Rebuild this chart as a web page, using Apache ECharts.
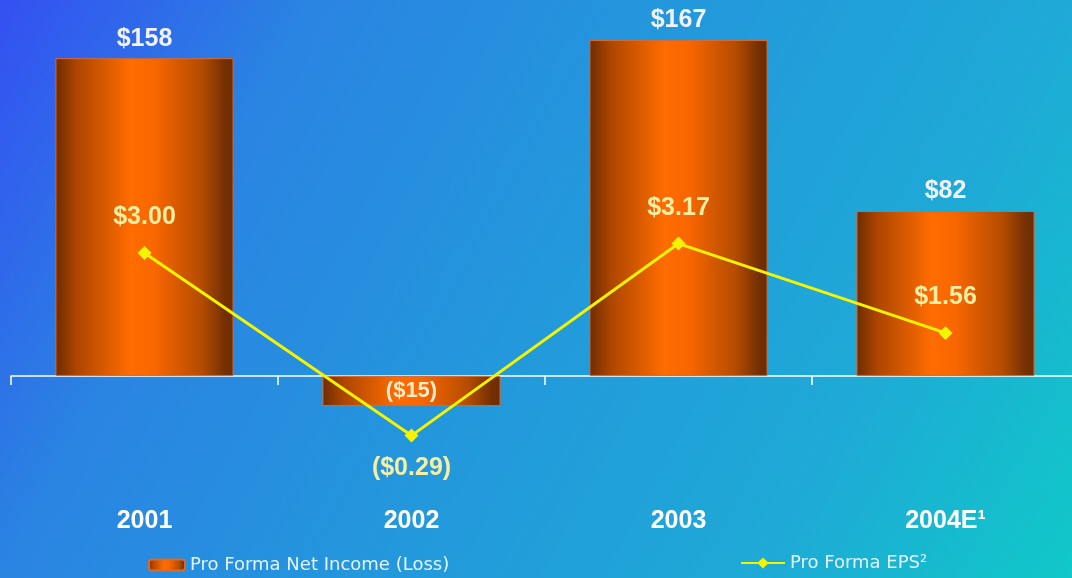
<!DOCTYPE html>
<html><head><meta charset="utf-8">
<script src="https://cdn.jsdelivr.net/npm/echarts@6/dist/echarts.min.js"></script>
<style>html,body{margin:0;padding:0;overflow:hidden;}#c{width:1072px;height:578px;}</style>
</head><body><div id="c"></div>
<script>
const categories = ['2001', '2002', '2003', '2004E\u00B9'];
const netIncome = [158, -15, 167, 82];
const eps = [3.00, -0.29, 3.17, 1.56];
const seriesNames = ['Pro Forma Net Income (Loss)', 'Pro Forma EPS\u00B2'];

const chart = echarts.init(document.getElementById('c'), null, {renderer: 'canvas'});

const barGradient = {
  type: 'linear', x: 0, y: 0, x2: 1, y2: 0,
  colorStops: [
    {offset: 0, color: '#6e2c02'},
    {offset: 0.12, color: '#ad4600'},
    {offset: 0.42, color: '#ff6c00'},
    {offset: 0.56, color: '#f86600'},
    {offset: 0.82, color: '#b44c00'},
    {offset: 0.95, color: '#743004'},
    {offset: 1, color: '#6e2c02'}
  ]
};

const money = v => v < 0 ? '($' + Math.abs(v) + ')' : '$' + v;
const money2 = v => v < 0 ? '($' + Math.abs(v).toFixed(2) + ')' : '$' + v.toFixed(2);

const barData = netIncome.map(v => ({
  value: v,
  label: v < 0
    ? {position: 'inside', color: '#ffeccc', fontSize: 22}
    : {position: 'top', distance: 7, color: '#f2f2ff', fontSize: 25}
}));
const lineData = eps.map(v => ({
  value: v,
  label: {position: v < 0 ? 'bottom' : 'top', distance: v < 0 ? 13 : 16}
}));

chart.setOption({
  backgroundColor: {
    type: 'linear', x: 0, y: 0, x2: 1, y2: 1,
    colorStops: [
      {offset: 0, color: '#3450f2'},
      {offset: 0.225, color: '#2a84e2'},
      {offset: 0.5, color: '#2398dc'},
      {offset: 0.775, color: '#1eaad6'},
      {offset: 1, color: '#10c8c8'}
    ]
  },
  animation: false,
  textStyle: {fontFamily: 'Liberation Sans'},
  grid: {
    left: 11, right: -7, top: 24, bottom: 101.5, containLabel: false,
    outerBoundsMode: 'none'
  },
  legend: [
    {
      data: [seriesNames[0]], left: 143, top: 551, itemWidth: 36, itemHeight: 11,
      textStyle: {color: '#e4f2ff', fontSize: 18, fontFamily: 'DejaVu Sans'}
    },
    {
      data: [seriesNames[1]], left: 735, top: 549, itemWidth: 44, itemHeight: 14,
      textStyle: {color: '#e4f2ff', fontSize: 18, fontFamily: 'DejaVu Sans'}
    }
  ],
  xAxis: [
    {
      type: 'category',
      data: categories,
      boundaryGap: true,
      axisLine: {show: true, onZero: true, lineStyle: {color: '#ffffff', width: 1.5}},
      axisTick: {show: true, length: 9, lineStyle: {color: '#ffffff', width: 1.5}},
      axisLabel: {show: false}
    },
    {
      type: 'category',
      data: categories,
      position: 'bottom',
      boundaryGap: true,
      axisLine: {show: false, onZero: false},
      axisTick: {show: false},
      axisLabel: {show: true, interval: 0, margin: 32, color: '#ffffff', fontSize: 25, fontWeight: 'bold'}
    }
  ],
  yAxis: [
    {type: 'value', min: -50, max: 175, show: false, splitLine: {show: false}},
    {type: 'value', min: -1.027, max: 7.126, show: false, splitLine: {show: false}}
  ],
  series: [
    {
      name: seriesNames[0],
      type: 'bar',
      xAxisIndex: 0,
      yAxisIndex: 0,
      data: barData,
      barWidth: '66.7%',
      itemStyle: {color: barGradient, borderColor: '#d86a30', borderWidth: 1},
      label: {show: true, fontWeight: 'bold', formatter: p => money(p.value)}
    },
    {
      name: seriesNames[1],
      type: 'line',
      xAxisIndex: 0,
      yAxisIndex: 1,
      data: lineData,
      symbol: 'diamond',
      symbolSize: 14,
      z: 5,
      lineStyle: {color: '#f4f400', width: 3},
      itemStyle: {color: '#f4f400'},
      label: {show: true, color: '#f6eea0', fontSize: 25, fontWeight: 'bold', formatter: p => money2(p.value)}
    }
  ]
});
</script>
</body></html>
